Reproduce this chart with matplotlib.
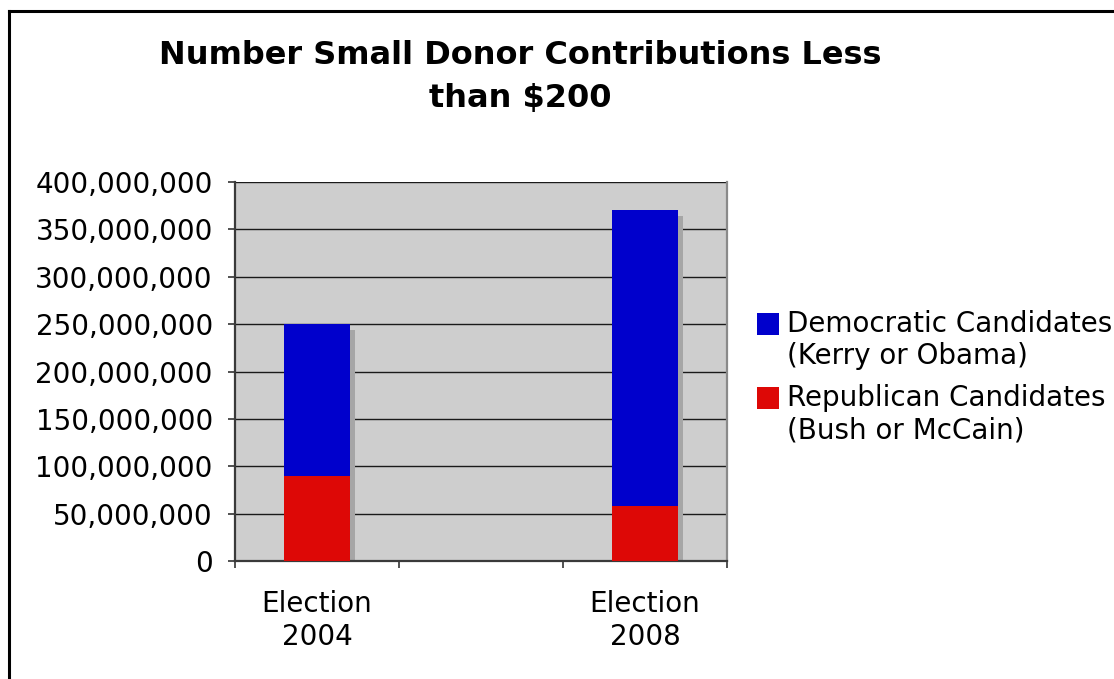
import numpy as np
import matplotlib
matplotlib.use('Agg')
import matplotlib.pyplot as plt
import matplotlib.ticker as ticker
import matplotlib.transforms as mtransforms
from matplotlib.patches import Rectangle
from matplotlib.legend_handler import HandlerPatch

# data
categories = ['Election\n2004', '', 'Election\n2008']
democratic = [160000000, 0, 312000000]   # blue part on top of the red
republican = [90000000, 0, 58000000]
series_labels = ['Democratic Candidates\n(Kerry or Obama)',
                 'Republican Candidates\n(Bush or McCain)']
yticks = np.arange(0, 400000001, 50000000)

blue = '#0000CC'
red = '#DD0806'
plotbg = '#CECECE'
shadow = '#A6A6A6'

plt.rcParams['font.family'] = 'DejaVu Sans'
fs = 20

fig = plt.figure(figsize=(11.14, 6.79), dpi=100)
ax = fig.add_axes([235 / 1114, 1 - 561 / 679, 492 / 1114, 379 / 679])
ax.set_facecolor(plotbg)

x = np.arange(len(categories))
idx = [0, 2]
xs = x[idx]
rep = np.array(republican)[idx]
dem = np.array(democratic)[idx]
totals = rep + dem
width = 0.4

# drop shadow behind each stacked column
shift = mtransforms.ScaledTranslation(5 / 100, -6 / 100, fig.dpi_scale_trans)
ax.bar(xs, totals, width, color=shadow, transform=ax.transData + shift, zorder=2)
b_rep = ax.bar(xs, rep, width, color=red, zorder=3)
b_dem = ax.bar(xs, dem, width, bottom=rep, color=blue, zorder=3)

ax.set_xlim(-0.5, 2.5)
ax.set_ylim(0, 400000000)
ax.set_yticks(yticks)
ax.yaxis.set_major_formatter(ticker.FuncFormatter(lambda v, p: '{:,.0f}'.format(v)))
ax.grid(axis='y', color='#1a1a1a', linewidth=1.0, zorder=1)
ax.set_axisbelow(True)

ax.set_xticks([-0.5, 0.5, 1.5, 2.5])
ax.set_xticklabels([])
ax.set_xticks(x, minor=True)
ax.set_xticklabels(categories, minor=True, fontsize=fs, linespacing=1.2)
ax.tick_params(axis='x', which='minor', length=0, pad=21)
ax.tick_params(axis='x', which='major', length=5, width=1.2, color='#333333', direction='out')
ax.tick_params(axis='y', length=5, width=1.2, color='#333333', labelsize=fs, pad=11)

for s in ['left', 'bottom']:
    ax.spines[s].set_color('#3a3a3a')
    ax.spines[s].set_linewidth(1.6)
ax.spines['right'].set_color('#8a8a8a')
ax.spines['right'].set_linewidth(1.6)
ax.spines['top'].set_visible(False)


def square_top(legend, orig_handle, xdescent, ydescent, width, height, fontsize):
    sq = 0.79 * fontsize
    return Rectangle((-xdescent, -ydescent + height - sq + 0.22 * fontsize), sq, sq)


leg = ax.legend([b_dem[0], b_rep[0]], series_labels, loc='upper left',
                bbox_to_anchor=(757 / 1114, 1 - 310 / 679), bbox_transform=fig.transFigure,
                frameon=False, fontsize=fs, handlelength=0.79, handleheight=2.2,
                handletextpad=0.3, labelspacing=0.5, borderpad=0, borderaxespad=0,
                handler_map={Rectangle: HandlerPatch(patch_func=square_top)})
for t in leg.get_texts():
    t.set_linespacing(1.2)

fig.text(520 / 1114, 1 - 77 / 679, 'Number Small Donor Contributions Less\nthan $200',
         ha='center', va='center', fontsize=23, fontweight='bold', linespacing=1.5)

# chart frame (top and left edges visible)
fig.add_artist(plt.Line2D([9 / 1114, 1], [1 - 11 / 679, 1 - 11 / 679], color='black', linewidth=2.2))
fig.add_artist(plt.Line2D([9 / 1114, 9 / 1114], [0, 1 - 11 / 679], color='black', linewidth=2.2))

fig.savefig('out.png', dpi=100)
